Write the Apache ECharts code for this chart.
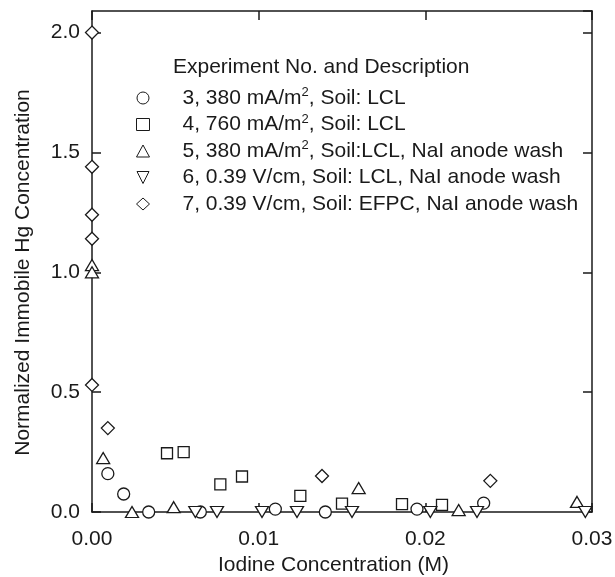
<!DOCTYPE html>
<html>
<head>
<meta charset="utf-8">
<script src="https://cdn.jsdelivr.net/npm/echarts@6/dist/echarts.min.js"></script>
<style>
html,body{margin:0;padding:0;background:#fff;}
#c{width:615px;height:577px;}
</style>
</head>
<body>
<div id="c"></div>
<script>
// ---- data ----
const xTicks = [0, 0.01, 0.02, 0.03];
const yTicks = [0, 0.5, 1.0, 1.5, 2.0];
const legendTitle = 'Experiment No. and Description';
const seriesNames = [
  '3, 380 mA/m², Soil: LCL',
  '4, 760 mA/m², Soil: LCL',
  '5, 380 mA/m², Soil:LCL, NaI anode wash',
  '6, 0.39 V/cm, Soil: LCL, NaI anode wash',
  '7, 0.39 V/cm, Soil: EFPC, NaI anode wash'
];
const exp3 = [[0.00095,0.16],[0.0019,0.075],[0.0034,0],[0.0065,0],[0.011,0.012],[0.014,0],[0.0195,0.012],[0.0235,0.037]];
const exp4 = [[0.0045,0.245],[0.0055,0.25],[0.0077,0.115],[0.009,0.148],[0.0125,0.067],[0.015,0.035],[0.0186,0.033],[0.021,0.03]];
const exp5 = [[0,1.03],[0,1.0],[0.00067,0.225],[0.0024,0],[0.0049,0.02],[0.016,0.1],[0.022,0.008],[0.0291,0.042]];
const exp6 = [[0.0062,0],[0.0075,0],[0.0102,0],[0.0123,0],[0.0156,0],[0.0203,0],[0.0231,0],[0.0296,0]];
const exp7 = [[0,2.0],[0,1.44],[0,1.24],[0,1.14],[0,0.53],[0.00095,0.35],[0.0138,0.15],[0.0239,0.13]];

const FONT = '"Liberation Sans", Arial, sans-serif';
const INK = '#1a1a1a';
const FS = 21;
const symbols = ['circle','rect','triangle','path://M0,0L2,0L1,2Z','diamond'];
const sizes = [12, 11, [13,11], [13,11], 13];
const datasets = [exp3, exp4, exp5, exp6, exp7];

const chart = echarts.init(document.getElementById('c'));
const axisLineStyle = {color: INK, width: 1.5};
const tickStyle = {show:true, inside:true, length:9, lineStyle:{color: INK, width:1.5}};
const xMin = xTicks[0], xMax = xTicks[xTicks.length-1];
const yMin = yTicks[0], yTop = 2.09;

chart.setOption({
  backgroundColor: '#fff',
  animation: false,
  title: {
    text: legendTitle, left: 173, top: 56, padding: 0,
    textStyle: {fontFamily: FONT, fontSize: FS, fontWeight: 'normal', color: INK, lineHeight: 22}
  },
  legend: {
    orient: 'vertical', left: 136, top: 86, itemGap: 4, padding: 0,
    itemWidth: 13, itemHeight: 12,
    data: seriesNames,
    itemStyle: {borderWidth: 1},
    textStyle: {fontFamily: FONT, fontSize: FS, color: INK, padding:[0,0,0,28],
      rich: {
        t: {fontFamily: FONT, fontSize: FS, color: INK, lineHeight: 24},
        sup: {fontFamily: FONT, fontSize: 13, color: INK, lineHeight: 13, verticalAlign: 'top'}
      }},
    formatter: function(n){
      const parts = n.split('²');
      if (parts.length === 1) return '{t|' + n + '}{sup|}';
      return '{t|' + parts[0] + '}{sup|2}{t|' + parts[1] + '}';
    }
  },
  grid: {left: 92, right: 23, top: 11, bottom: 65, show: false, containLabel: false, outerBoundsMode: 'none'},
  xAxis: [{
    type: 'value', min: xMin, max: xMax, interval: 0.01,
    name: 'Iodine Concentration (M)', nameLocation: 'middle', nameGap: 43,
    nameTextStyle: {fontFamily: FONT, fontSize: FS, color: INK, padding:[0,17,0,0]},
    axisLine: {show:true, onZero:false, lineStyle: axisLineStyle},
    axisTick: tickStyle,
    axisLabel: {fontFamily: FONT, fontSize: FS, color: INK, margin: 17,
      formatter: v => v.toFixed(2)},
    splitLine: {show:false}
  },{
    type: 'value', position: 'top', min: xMin, max: xMax, interval: 0.01,
    axisLine: {show:true, onZero:false, lineStyle: axisLineStyle},
    axisTick: tickStyle, axisLabel: {show:false}, splitLine: {show:false}
  }],
  yAxis: [{
    type: 'value', min: yMin, max: yTop, interval: 0.5,
    name: 'Normalized Immobile Hg Concentration', nameLocation: 'middle', nameGap: 58,
    nameTextStyle: {fontFamily: FONT, fontSize: FS, color: INK, padding:[0,22,0,0]},
    axisLine: {show:true, onZero:false, lineStyle: axisLineStyle},
    axisTick: tickStyle,
    axisLabel: {fontFamily: FONT, fontSize: FS, color: INK, margin: 12, showMaxLabel: false,
      formatter: v => v.toFixed(1)},
    splitLine: {show:false}
  },{
    type: 'value', position: 'right', min: yMin, max: yTop, interval: 0.5,
    axisLine: {show:true, onZero:false, lineStyle: axisLineStyle},
    axisTick: tickStyle, axisLabel: {show:false}, splitLine: {show:false}
  }],
  series: datasets.map((d, i) => ({
    type: 'scatter', name: seriesNames[i], data: d,
    xAxisIndex: 0, yAxisIndex: 0,
    symbol: symbols[i], symbolSize: sizes[i], clip: false,
    itemStyle: {color: '#fff', borderColor: INK, borderWidth: 1.3, opacity: 1},
    z: 5
  }))
});
</script>
</body>
</html>
